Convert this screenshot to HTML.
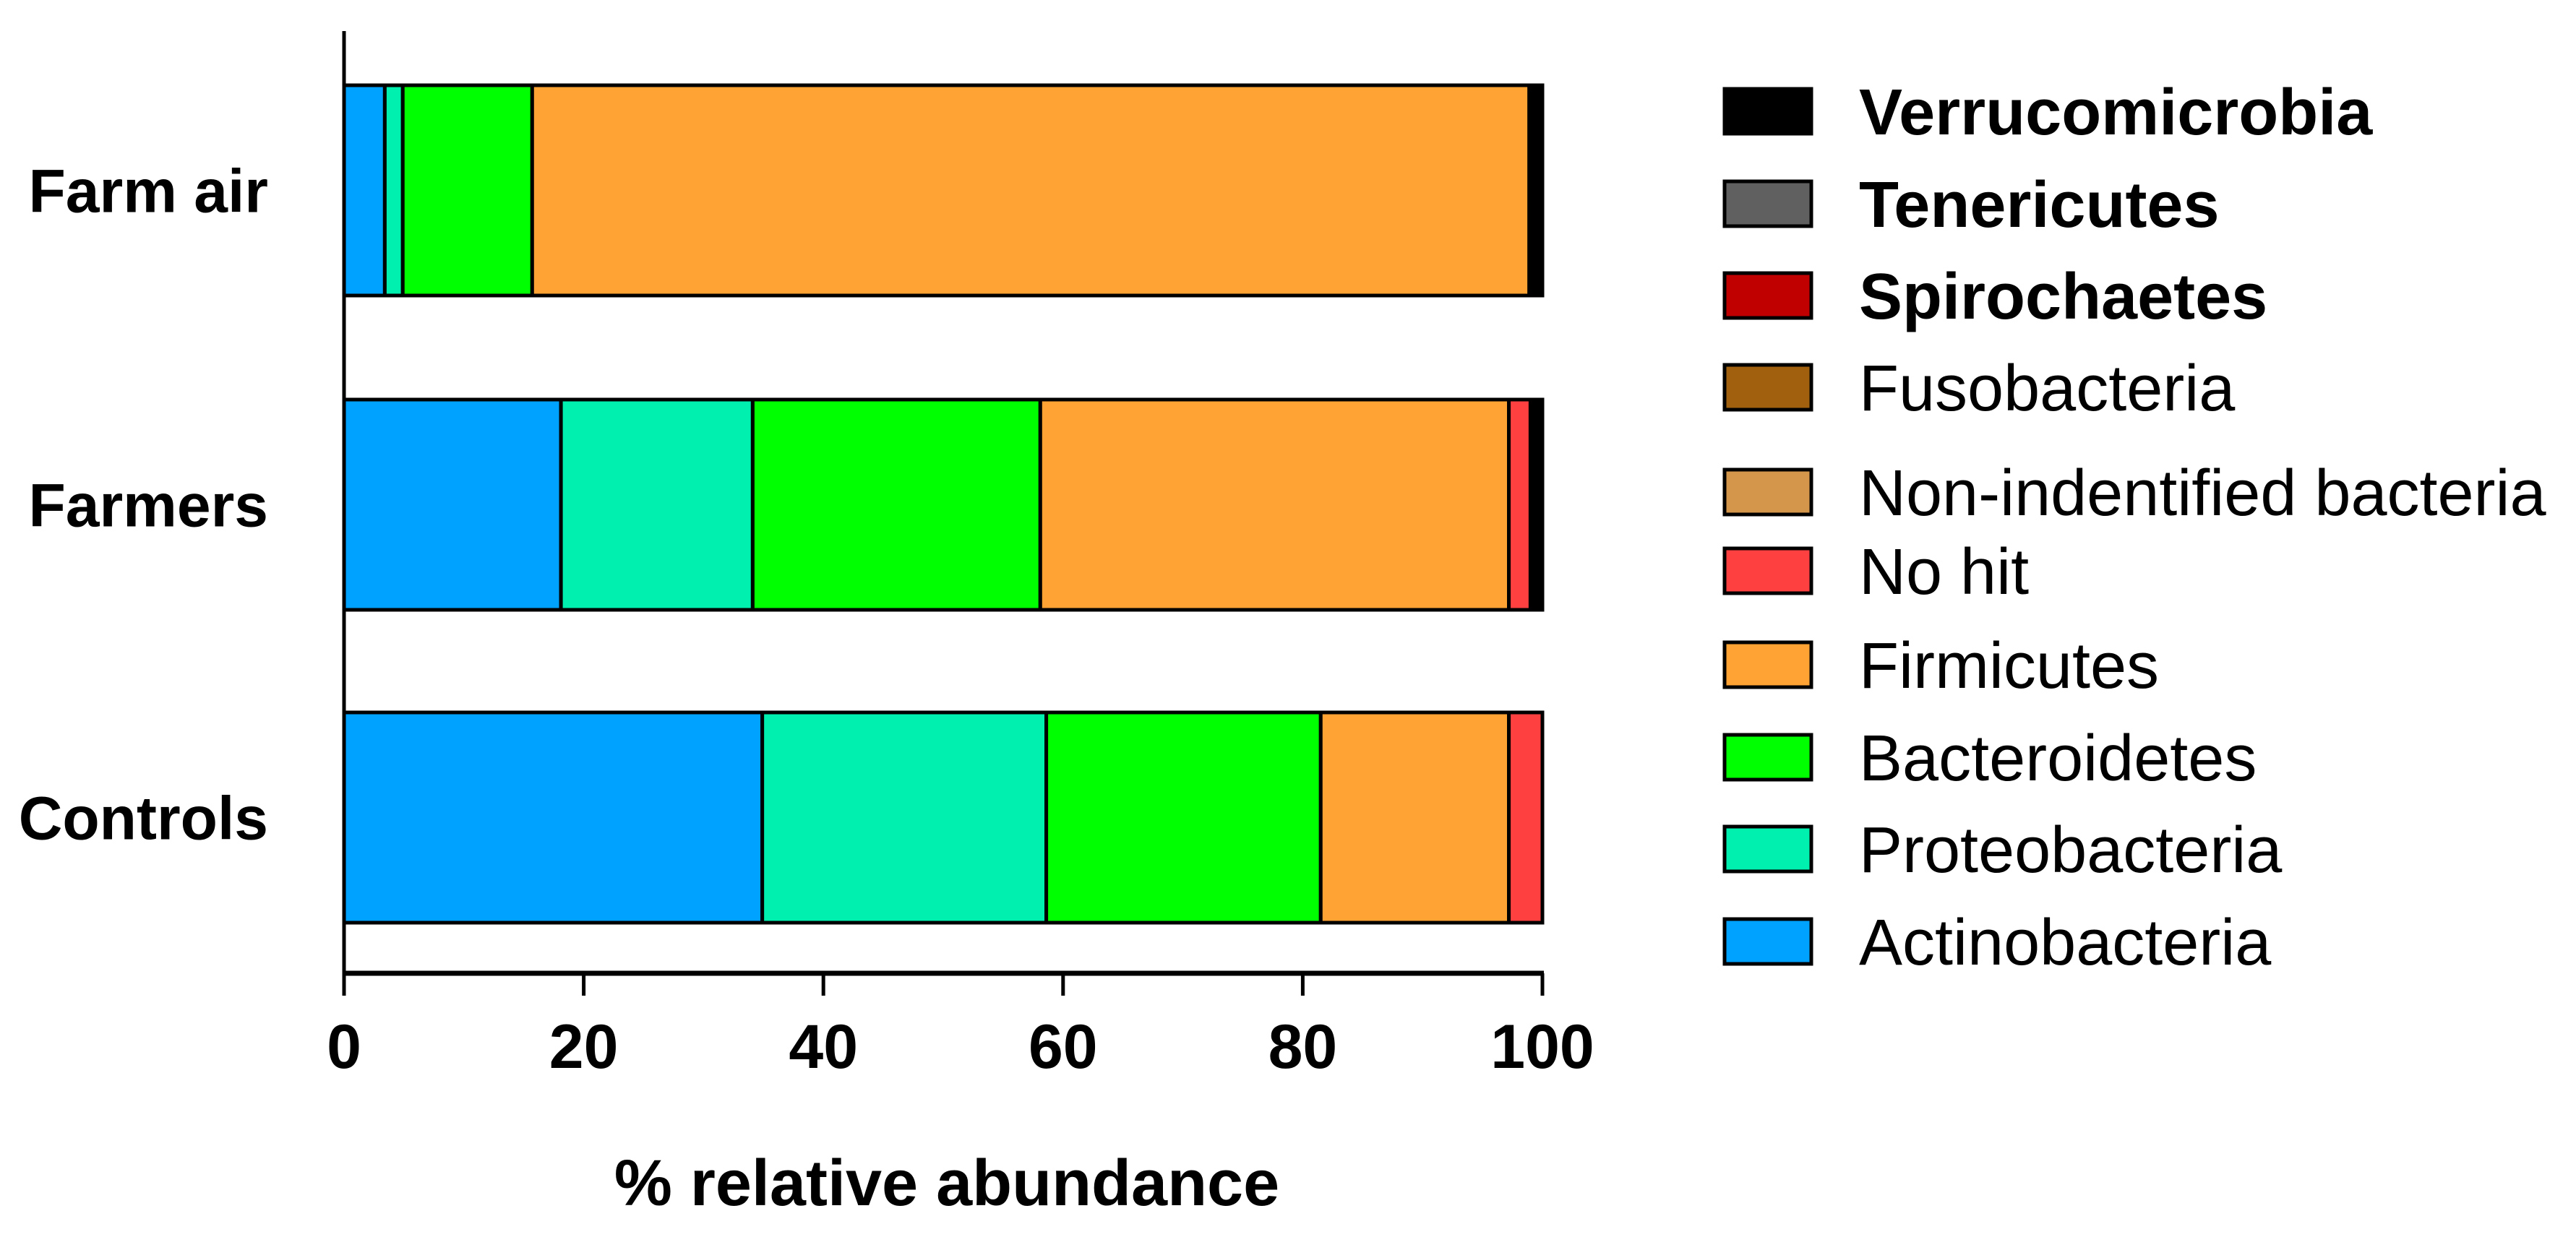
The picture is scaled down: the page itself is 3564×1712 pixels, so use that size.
<!DOCTYPE html>
<html><head><meta charset="utf-8"><style>body{margin:0;background:#fff}svg{display:block}text{font-family:"Liberation Sans",Arial,sans-serif}</style></head>
<body>
<svg id="chart" width="3564" height="1712" viewBox="0 0 3564 1712" xmlns="http://www.w3.org/2000/svg"></svg>
<script>
const categories = ["Farm air", "Farmers", "Controls"];
const seriesNames = ["Actinobacteria","Proteobacteria","Bacteroidetes","Firmicutes","No hit","Non-indentified bacteria","Fusobacteria","Spirochaetes","Tenericutes","Verrucomicrobia"];
const actinobacteria = [3.4, 18.1, 34.9];
const proteobacteria = [1.5, 16.0, 23.7];
const bacteroidetes = [10.8, 24.0, 22.9];
const firmicutes = [83.2, 39.1, 15.7];
const noHit = [0, 1.8, 2.8];
const nonIdentified = [0, 0, 0];
const fusobacteria = [0, 0, 0];
const spirochaetes = [0, 0, 0];
const tenericutes = [0, 0, 0];
const verrucomicrobia = [1.1, 1.0, 0];
const xTicks = [0, 20, 40, 60, 80, 100];
const boldLegend = ["Verrucomicrobia","Tenericutes","Spirochaetes"];

const colors = ["#00a2ff","#00f0b0","#00ff00","#ffa335","#ff4040","#d4964a","#a0600e","#c00000","#606060","#000000"];
const series = [actinobacteria,proteobacteria,bacteroidetes,firmicutes,noHit,nonIdentified,fusobacteria,spirochaetes,tenericutes,verrucomicrobia];
const NS="http://www.w3.org/2000/svg";
const svg=document.getElementById('chart');
function mk(t,a,txt){const e=document.createElementNS(NS,t);for(const k in a)e.setAttribute(k,a[k]);if(txt!==undefined)e.textContent=txt;svg.appendChild(e);return e;}
const X0=476,X1=2134;
function xs(v){return X0+(X1-X0)*v/100;}
const barTops=[118,553,986], barH=291;
function yBar(i){return barTops[i];}

categories.forEach((c,i)=>{
  let acc=0;
  series.forEach((s,j)=>{
    const v=s[i]; if(v<=0) return;
    const r=mk('rect',{x:xs(acc),y:yBar(i),width:xs(acc+v)-xs(acc),height:barH,fill:colors[j],stroke:'#000','stroke-width':5});
    
    
    acc+=v;
  });
  const t=mk('text',{x:371,y:yBar(i)+barH/2+30,'text-anchor':'end','font-size':84,'font-weight':'bold',fill:'#000'},c);
  
  
});

const ya=mk('line',{x1:X0,y1:43,x2:X0,y2:1378,stroke:'#000','stroke-width':5});


const xa=mk('line',{x1:X0-2,y1:1347,x2:X1+2,y2:1347,stroke:'#000','stroke-width':7});


xTicks.forEach(v=>{
  const tk=mk('line',{x1:xs(v),y1:1347,x2:xs(v),y2:1378,stroke:'#000','stroke-width':5});
  
  
  const tl=mk('text',{x:xs(v),y:1478,'text-anchor':'middle','font-size':86,'font-weight':'bold',fill:'#000'},String(v));
  
  
});
const xt=mk('text',{x:1310,y:1668,'text-anchor':'middle','font-size':90,'font-weight':'bold',fill:'#000'},'% relative abundance');



const legendY=[154,282,409,536,681,790,920,1048,1175,1303];
for(let k=0;k<10;k++){
  const j=9-k;
  const cy=legendY[k];
  const sw=mk('rect',{x:2386,y:cy-31,width:120,height:62,fill:colors[j],stroke:'#000','stroke-width':5});
  
  
  const bold=boldLegend.includes(seriesNames[j]);
  const lt=mk('text',{x:2572,y:cy+32,'font-size':90,'font-weight':bold?'bold':'normal',fill:'#000'},seriesNames[j]);
  
  
}
</script>
</body></html>
